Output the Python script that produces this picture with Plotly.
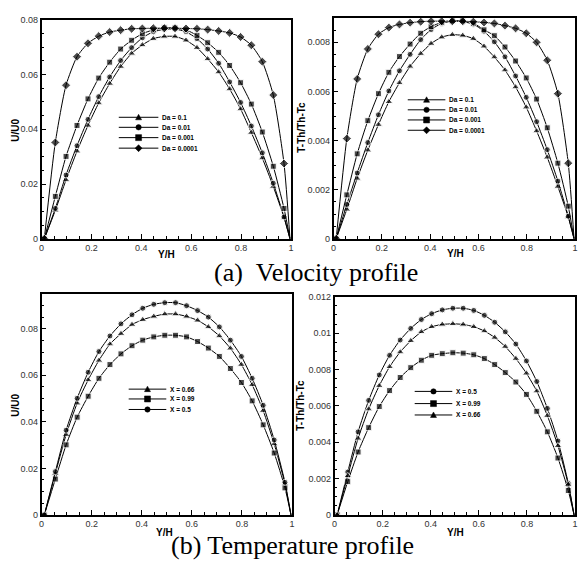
import plotly.graph_objects as go

# Wall-normal positions of the sampled nodes (Y/H)
Y_POS = [0.011, 0.055, 0.098, 0.142, 0.186, 0.229, 0.273, 0.317, 0.361, 0.404,
         0.448, 0.492, 0.535, 0.579, 0.623, 0.666, 0.710, 0.754, 0.798, 0.841,
         0.885, 0.929, 0.972, 0.996]

# (a) velocity profiles for several Darcy numbers
U_DA_1E1 = [0, 0.0104, 0.0215, 0.0320, 0.0414, 0.0496, 0.0567, 0.0629, 0.0677, 0.0708, 0.0731, 0.0739,
            0.0739, 0.0725, 0.0698, 0.0657, 0.0609, 0.0547, 0.0474, 0.0388, 0.0295, 0.0191, 0.0078, 0]
U_DA_1E2 = [0, 0.0111, 0.0233, 0.0340, 0.0436, 0.0519, 0.0591, 0.0651, 0.0698, 0.0734, 0.0756, 0.0765,
            0.0766, 0.0756, 0.0731, 0.0693, 0.0641, 0.0573, 0.0498, 0.0412, 0.0314, 0.0203, 0.0080, 0]
U_DA_1E3 = [0, 0.0155, 0.0301, 0.0414, 0.0511, 0.0587, 0.0645, 0.0693, 0.0725, 0.0749, 0.0763, 0.0771,
            0.0770, 0.0763, 0.0743, 0.0716, 0.0681, 0.0633, 0.0570, 0.0492, 0.0390, 0.0265, 0.0111, 0]
U_DA_1E4 = [0, 0.0352, 0.0561, 0.0665, 0.0714, 0.0740, 0.0755, 0.0762, 0.0767, 0.0768, 0.0769, 0.0769,
            0.0769, 0.0768, 0.0767, 0.0764, 0.0759, 0.0752, 0.0737, 0.0707, 0.0647, 0.0525, 0.0275, 0]

# (a) temperature profiles for the same Darcy numbers
T_DA_1E1 = [0, 0.00120, 0.00246, 0.00361, 0.00465, 0.00558, 0.00635, 0.00702, 0.00754, 0.00795, 0.00821, 0.00831,
            0.00828, 0.00815, 0.00784, 0.00740, 0.00687, 0.00618, 0.00536, 0.00439, 0.00332, 0.00213, 0.00089, 0]
T_DA_1E2 = [0, 0.00140, 0.00268, 0.00392, 0.00505, 0.00602, 0.00684, 0.00751, 0.00811, 0.00852, 0.00877, 0.00886,
            0.00884, 0.00874, 0.00845, 0.00802, 0.00741, 0.00663, 0.00576, 0.00477, 0.00363, 0.00235, 0.00092, 0]
T_DA_1E3 = [0, 0.00179, 0.00346, 0.00481, 0.00591, 0.00678, 0.00742, 0.00793, 0.00837, 0.00864, 0.00881, 0.00888,
            0.00888, 0.00878, 0.00851, 0.00827, 0.00781, 0.00724, 0.00655, 0.00569, 0.00452, 0.00308, 0.00133, 0]
T_DA_1E4 = [0, 0.00408, 0.00651, 0.00773, 0.00833, 0.00860, 0.00873, 0.00880, 0.00884, 0.00886, 0.00886, 0.00886,
            0.00886, 0.00884, 0.00881, 0.00877, 0.00868, 0.00857, 0.00837, 0.00800, 0.00727, 0.00591, 0.00308, 0]

# (b) velocity profiles at three streamwise stations
U_X050 = [0, 0.0186, 0.0364, 0.0501, 0.0613, 0.0702, 0.0769, 0.0821, 0.0860, 0.0888, 0.0905, 0.0912,
          0.0912, 0.0899, 0.0878, 0.0850, 0.0808, 0.0751, 0.0681, 0.0587, 0.0471, 0.0322, 0.0140, 0]
U_X066 = [0, 0.0178, 0.0345, 0.0480, 0.0580, 0.0664, 0.0734, 0.0779, 0.0818, 0.0839, 0.0853, 0.0863,
          0.0863, 0.0853, 0.0836, 0.0808, 0.0769, 0.0716, 0.0646, 0.0559, 0.0448, 0.0305, 0.0133, 0]
U_X099 = [0, 0.0154, 0.0301, 0.0420, 0.0510, 0.0587, 0.0646, 0.0692, 0.0727, 0.0751, 0.0765, 0.0772,
          0.0772, 0.0765, 0.0745, 0.0717, 0.0681, 0.0629, 0.0569, 0.0490, 0.0387, 0.0266, 0.0116, 0]

# (b) temperature profiles at the same stations
T_X050 = [0, 0.00236, 0.00457, 0.00630, 0.00770, 0.00878, 0.00962, 0.01026, 0.01075, 0.01107, 0.01128, 0.01137,
          0.01137, 0.01125, 0.01098, 0.01060, 0.01007, 0.00940, 0.00847, 0.00734, 0.00586, 0.00407, 0.00174, 0]
T_X066 = [0, 0.00215, 0.00421, 0.00582, 0.00711, 0.00815, 0.00896, 0.00958, 0.01007, 0.01035, 0.01048, 0.01051,
          0.01048, 0.01035, 0.01012, 0.00976, 0.00926, 0.00860, 0.00779, 0.00681, 0.00546, 0.00380, 0.00167, 0]
T_X099 = [0, 0.00183, 0.00346, 0.00480, 0.00596, 0.00684, 0.00756, 0.00810, 0.00851, 0.00878, 0.00887, 0.00892,
          0.00890, 0.00881, 0.00860, 0.00827, 0.00783, 0.00731, 0.00663, 0.00570, 0.00457, 0.00313, 0.00134, 0]

DA_LABELS = ["Da = 0.1", "Da = 0.01", "Da = 0.001", "Da = 0.0001"]
X_LABELS = {"0.5": "X = 0.5", "0.66": "X = 0.66", "0.99": "X = 0.99"}
X_TICKS = [0, 0.2, 0.4, 0.6, 0.8, 1]
X_TICK_TEXT = ["0", "0.2", "0.4", "0.6", "0.8", "1"]

W, H = 579, 570
SYMBOLS = {"tri": "triangle-up", "cir": "circle", "sq": "square", "dia": "diamond"}
SIZES = {"tri": 7, "cir": 6, "sq": 6, "dia": 7}

fig = go.Figure()


def add_curve(ax, ys, kind, name):
    # the closing wall node is drawn as a line end only
    sizes = [SIZES[kind]] * (len(ys) - 1) + [0]
    fig.add_trace(go.Scatter(
        x=Y_POS, y=ys, name=name, mode="lines+markers",
        xaxis="x" + ax, yaxis="y" + ax, showlegend=False,
        line=dict(color="black", width=1, shape="spline", smoothing=0.6),
        marker=dict(symbol=SYMBOLS[kind], size=sizes, color="black"),
    ))


# top-left: velocity vs Da
add_curve("", U_DA_1E1, "tri", DA_LABELS[0])
add_curve("", U_DA_1E2, "cir", DA_LABELS[1])
add_curve("", U_DA_1E3, "sq", DA_LABELS[2])
add_curve("", U_DA_1E4, "dia", DA_LABELS[3])
# top-right: temperature vs Da
add_curve("2", T_DA_1E1, "tri", DA_LABELS[0])
add_curve("2", T_DA_1E2, "cir", DA_LABELS[1])
add_curve("2", T_DA_1E3, "sq", DA_LABELS[2])
add_curve("2", T_DA_1E4, "dia", DA_LABELS[3])
# bottom-left: velocity vs X
add_curve("3", U_X066, "tri", X_LABELS["0.66"])
add_curve("3", U_X099, "sq", X_LABELS["0.99"])
add_curve("3", U_X050, "cir", X_LABELS["0.5"])
# bottom-right: temperature vs X
add_curve("4", T_X050, "cir", X_LABELS["0.5"])
add_curve("4", T_X099, "sq", X_LABELS["0.99"])
add_curve("4", T_X066, "tri", X_LABELS["0.66"])


def px_x(p):
    return p / W


def px_y(p):
    return 1 - p / H


TICK_FONT = dict(family="Liberation Sans, Arial, sans-serif", size=9, color="#333333")


def xaxis_cfg(x0, x1, yax):
    return dict(
        domain=[px_x(x0), px_x(x1)], anchor=yax, range=[0, 1],
        tickvals=X_TICKS, ticktext=X_TICK_TEXT,
        ticks="inside", ticklen=5, tickwidth=1, tickcolor="black",
        minor=dict(ticks="inside", ticklen=3, dtick=0.05, tickcolor="black", tickwidth=1),
        showline=True, linecolor="black", linewidth=1.5, mirror=True,
        showgrid=False, zeroline=False, tickfont=TICK_FONT,
    )


def yaxis_cfg(y0, y1, xax, top, dtick, minor):
    return dict(
        domain=[px_y(y1), px_y(y0)], anchor=xax, range=[0, top],
        tick0=0, dtick=dtick,
        ticks="inside", ticklen=5, tickwidth=1, tickcolor="black",
        minor=dict(ticks="inside", ticklen=3, dtick=minor, tickcolor="black", tickwidth=1),
        showline=True, linecolor="black", linewidth=1.5, mirror=True,
        showgrid=False, zeroline=False, tickfont=TICK_FONT,
    )


fig.update_layout(
    width=W, height=H, margin=dict(l=0, r=0, t=0, b=0),
    paper_bgcolor="white", plot_bgcolor="white", showlegend=False,
    xaxis=xaxis_cfg(39, 291, "y"),
    yaxis=yaxis_cfg(15, 238, "x", 0.08, 0.02, 0.005),
    xaxis2=xaxis_cfg(334, 578, "y2"),
    yaxis2=yaxis_cfg(13, 238, "x2", 0.009, 0.002, 0.0005),
    xaxis3=xaxis_cfg(39, 292, "y3"),
    yaxis3=yaxis_cfg(294, 519, "x3", 0.095, 0.02, 0.005),
    xaxis4=xaxis_cfg(335, 578, "y4"),
    yaxis4=yaxis_cfg(297, 519, "x4", 0.012, 0.002, 0.0005),
)

annotations = []
shapes = []

TITLE_FONT = dict(family="Liberation Sans, Arial, sans-serif", size=10, color="black")


def label(text, x, y, angle=0):
    annotations.append(dict(
        text="<b>%s</b>" % text, x=px_x(x), y=px_y(y), xref="paper", yref="paper",
        showarrow=False, textangle=angle, font=TITLE_FONT,
        xanchor="center", yanchor="middle",
    ))


# axis titles
label("Y/H", 165, 254)
label("Y/H", 457, 253)
label("Y/H", 163, 537)
label("Y/H", 457, 537)
label("U/U0", 13, 127, -90)
label("T-Th/Th-Tc", 302, 124, -90)
label("U/U0", 13, 407, -90)
label("T-Th/Th-Tc", 301, 407, -90)

# panel captions
CAP_FONT = dict(family="Liberation Serif, Times New Roman, serif", size=26, color="black")
annotations.append(dict(text="(a)\u00a0\u00a0Velocity profile", x=px_x(316), y=px_y(272),
                        xref="paper", yref="paper", showarrow=False, font=CAP_FONT,
                        xanchor="center", yanchor="middle"))
annotations.append(dict(text="(b) Temperature profile", x=px_x(293), y=px_y(550),
                        xref="paper", yref="paper", showarrow=False, font=CAP_FONT,
                        xanchor="center", yanchor="middle"))

LEG_FONT = dict(family="Liberation Sans, Arial, sans-serif", size=6.5, color="black")


def legend_marker(kind, xc, yc):
    base = dict(xref="paper", yref="paper", xsizemode="pixel", ysizemode="pixel",
                xanchor=px_x(xc), yanchor=px_y(yc),
                fillcolor="black", line=dict(color="black", width=0.5))
    if kind == "cir":
        shapes.append(dict(type="circle", x0=-2.7, x1=2.7, y0=-2.7, y1=2.7, **base))
    elif kind == "sq":
        shapes.append(dict(type="rect", x0=-3, x1=3, y0=-3, y1=3, **base))
    elif kind == "tri":
        shapes.append(dict(type="path", path="M -3,-2.5 L 3,-2.5 L 0,3 Z", **base))
    else:
        shapes.append(dict(type="path", path="M -3.5,0 L 0,3.5 L 3.5,0 L 0,-3.5 Z", **base))


def legend(x0, x1, xtext, rows):
    for kind, text, yc in rows:
        shapes.append(dict(type="line", xref="paper", yref="paper",
                           x0=px_x(x0), x1=px_x(x1), y0=px_y(yc), y1=px_y(yc),
                           line=dict(color="black", width=1)))
        legend_marker(kind, (x0 + x1) / 2, yc)
        annotations.append(dict(text="<b>%s</b>" % text, x=px_x(xtext), y=px_y(yc),
                                xref="paper", yref="paper", showarrow=False,
                                font=LEG_FONT, xanchor="left", yanchor="middle"))


legend(117, 157, 159, [("tri", DA_LABELS[0], 114.3), ("cir", DA_LABELS[1], 124.5),
                       ("sq", DA_LABELS[2], 135), ("dia", DA_LABELS[3], 145.7)])
legend(409, 447, 449, [("tri", DA_LABELS[0], 96.5), ("cir", DA_LABELS[1], 106.7),
                       ("sq", DA_LABELS[2], 117), ("dia", DA_LABELS[3], 127.5)])
legend(127, 165, 167, [("tri", X_LABELS["0.66"], 391), ("sq", X_LABELS["0.99"], 401),
                       ("cir", X_LABELS["0.5"], 411.7)])
legend(416, 454, 456, [("cir", X_LABELS["0.5"], 393.3), ("sq", X_LABELS["0.99"], 405.7),
                       ("tri", X_LABELS["0.66"], 417.3)])

fig.update_layout(annotations=annotations, shapes=shapes)
fig.write_html("out.html")
